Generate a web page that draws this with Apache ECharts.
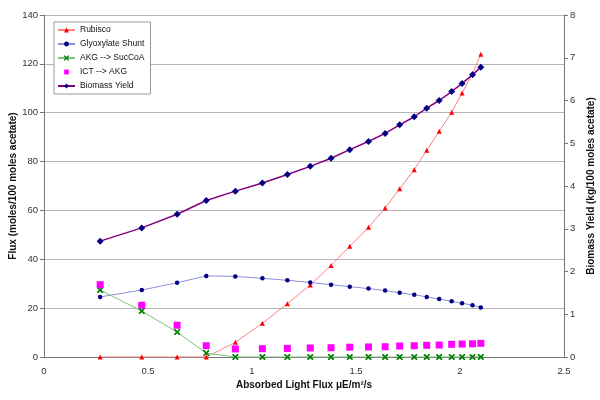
<!DOCTYPE html>
<html><head><meta charset="utf-8">
<script src="https://cdn.jsdelivr.net/npm/echarts@6/dist/echarts.min.js"></script>
<style>html,body{margin:0;padding:0;background:#fff}#c{width:600px;height:400px}</style>
</head><body><div id="c"></div>
<script>
const lightFlux = [0.27,0.47,0.64,0.78,0.92,1.05,1.17,1.28,1.38,1.47,1.56,1.64,1.71,1.78,1.84,1.90,1.96,2.01,2.06,2.10];
const rubisco = [0,0,0,0,6.0,13.8,21.8,29.5,37.5,45.3,53.1,61.0,68.9,76.7,84.6,92.4,100.2,108.1,116.0,123.9];
const glyoxylate = [24.6,27.4,30.4,33.2,33.0,32.2,31.4,30.5,29.6,28.8,28.0,27.2,26.3,25.5,24.6,23.7,22.8,22.0,21.2,20.3];
const akgSucCoA = [27.4,18.8,10.2,1.6,0,0,0,0,0,0,0,0,0,0,0,0,0,0,0,0];
const ictAkg = [29.6,21.2,13.0,4.6,3.3,3.4,3.5,3.7,3.8,4.0,4.1,4.2,4.5,4.6,4.8,4.9,5.2,5.3,5.4,5.6];
const biomass = [2.71,3.02,3.34,3.66,3.88,4.07,4.27,4.46,4.65,4.85,5.04,5.23,5.43,5.62,5.82,6.00,6.21,6.40,6.60,6.78];
const seriesNames = ['Rubisco','Glyoxylate Shunt','AKG --> SucCoA','ICT --> AKG','Biomass Yield'];

const pair = arr => lightFlux.map((x,i)=>[x,arr[i]]);
const font = 'Liberation Sans, Arial, sans-serif';
const xShape = 'path://M0,0 L2,0 L5,3 L8,0 L10,0 L10,2 L7,5 L10,8 L10,10 L8,10 L5,7 L2,10 L0,10 L0,8 L3,5 L0,2 Z';

const chart = echarts.init(document.getElementById('c'));
chart.setOption({
  animation:false,
  textStyle:{fontFamily:font},
  grid:{left:44,right:36,top:15,bottom:43,containLabel:false,outerBoundsMode:'none'},
  legend:{
    orient:'vertical', left:54, top:22, data:seriesNames,
    itemWidth:17, itemHeight:6, itemGap:4,
    backgroundColor:'#fff', borderColor:'#999', borderWidth:1,
    padding:[3,6,3,3],
    textStyle:{fontSize:8.5, lineHeight:10, color:'#111', fontFamily:font}
  },
  xAxis:{
    type:'value', min:0, max:2.5, interval:0.5,
    name:'Absorbed Light Flux μE/m²/s', nameLocation:'middle', nameGap:23, nameMoveOverlap:false,
    nameTextStyle:{fontWeight:'bold', fontSize:10, color:'#111'},
    axisLine:{lineStyle:{color:'#777'}},
    axisTick:{show:false},
    axisLabel:{fontSize:9.5, color:'#333', margin:9},
    splitLine:{show:false}
  },
  yAxis:[{
    type:'value', min:0, max:140, interval:20,
    name:'Flux (moles/100 moles acetate)', nameLocation:'middle', nameGap:26, nameRotate:90, nameMoveOverlap:false,
    nameTextStyle:{fontWeight:'bold', fontSize:10, color:'#111'},
    axisLine:{show:true, lineStyle:{color:'#777'}},
    axisTick:{show:true, length:4, lineStyle:{color:'#777'}},
    axisLabel:{fontSize:9.5, color:'#333', margin:6},
    splitLine:{show:true, lineStyle:{color:'#b5b5b5'}}
  },{
    type:'value', min:0, max:8, interval:1, position:'right',
    name:'Biomass Yield (kg/100 moles acetate)', nameLocation:'middle', nameGap:22, nameRotate:90, nameMoveOverlap:false,
    nameTextStyle:{fontWeight:'bold', fontSize:10, color:'#111'},
    axisLine:{show:true, lineStyle:{color:'#777'}},
    axisTick:{show:true, length:4, lineStyle:{color:'#777'}},
    axisLabel:{fontSize:9.5, color:'#333', margin:6},
    splitLine:{show:false}
  }],
  series:[
    {name:seriesNames[0], type:'line', data:pair(rubisco), symbol:'triangle', symbolSize:5,
     itemStyle:{color:'#ff0000'}, lineStyle:{color:'#ff8080', width:1}},
    {name:seriesNames[1], type:'line', data:pair(glyoxylate), symbol:'circle', symbolSize:4.5,
     itemStyle:{color:'#000080'}, lineStyle:{color:'#8f8fd8', width:1}},
    {name:seriesNames[2], type:'line', data:pair(akgSucCoA), symbol:xShape, symbolSize:6,
     itemStyle:{color:'#008000'}, lineStyle:{color:'#7cc47c', width:1}},
    {name:seriesNames[3], type:'line', data:pair(ictAkg), symbol:'rect', symbolSize:7,
     itemStyle:{color:'#ff00ff'}, lineStyle:{width:0, opacity:0}},
    {name:seriesNames[4], type:'line', yAxisIndex:1, data:pair(biomass), symbol:'diamond', symbolSize:7,
     itemStyle:{color:'#000080'}, lineStyle:{color:'#800080', width:1.5}}
  ]
});
</script></body></html>
